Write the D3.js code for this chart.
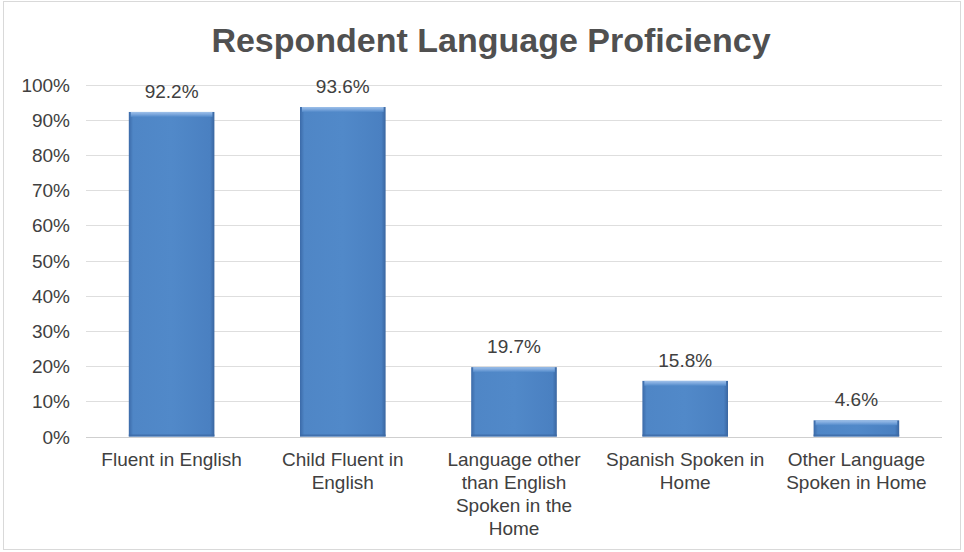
<!DOCTYPE html>
<html><head><meta charset="utf-8">
<script src="https://cdn.jsdelivr.net/npm/d3@7"></script>
<style>
html,body{margin:0;padding:0;background:#fff;}
svg{display:block;font-family:"Liberation Sans",Arial,sans-serif;}
</style></head>
<body>
<svg id="chart" width="964" height="552"></svg>
<script>
const title = "Respondent Language Proficiency";
const categories = [
  "Fluent in English",
  "Child Fluent in\nEnglish",
  "Language other\nthan English\nSpoken in the\nHome",
  "Spanish Spoken in\nHome",
  "Other Language\nSpoken in Home"
];
const values = [0.922, 0.936, 0.197, 0.158, 0.046];
const valueLabels = ["92.2%", "93.6%", "19.7%", "15.8%", "4.6%"];
const yTicks = [0, 0.1, 0.2, 0.3, 0.4, 0.5, 0.6, 0.7, 0.8, 0.9, 1.0];

const svg = d3.select("#chart");
const W = 964, H = 552;
const m = {left: 86, right: 22, top: 84.5, bottom: 115.5};

svg.append("rect").attr("x", 3.5).attr("y", 1.5).attr("width", 957).attr("height", 548)
  .attr("fill", "#fff").attr("stroke", "#d9d9d9").attr("stroke-width", 1);

const defs = svg.append("defs");
const g1 = defs.append("linearGradient").attr("id", "barH").attr("x1", 0).attr("x2", 1).attr("y1", 0).attr("y2", 0);
[[0, "#3b6aa8"], [0.05, "#4f86c6"], [0.5, "#5189c9"], [0.95, "#4a80c1"], [1, "#3a66a0"]]
  .forEach(([o, c]) => g1.append("stop").attr("offset", o).attr("stop-color", c));
const g2 = defs.append("linearGradient").attr("id", "barTop").attr("x1", 0).attr("x2", 0).attr("y1", 0).attr("y2", 1);
[[0, "#9fc1ea"], [0.5, "#7aa6dc"], [1, "#5189c9"]]
  .forEach(([o, c]) => g2.append("stop").attr("offset", o).attr("stop-color", c));

const x = d3.scaleBand().domain(categories).range([m.left, W - m.right]).paddingInner(0.5).paddingOuter(0.25);
const y = d3.scaleLinear().domain([0, 1]).range([H - m.bottom, m.top]);

// gridlines
svg.append("g").selectAll("line").data(yTicks).join("line")
  .attr("x1", m.left).attr("x2", W - m.right)
  .attr("y1", d => Math.round(y(d)) + 0.5).attr("y2", d => Math.round(y(d)) + 0.5)
  .attr("stroke", d => d === 0 ? "#cfcfcf" : "#dedede").attr("stroke-width", 1);

// y axis labels
const yAxis = d3.axisLeft(y).tickValues(yTicks).tickFormat(d3.format(".0%")).tickSize(0).tickPadding(0);
const ya = svg.append("g").attr("transform", `translate(70,0)`).call(yAxis);
ya.select(".domain").remove();
ya.selectAll("text").attr("font-size", 19).attr("fill", "#404040")
  .attr("font-family", "Liberation Sans, Arial, sans-serif").attr("dy", "0.35em");

// bars
const bars = svg.append("g").selectAll("g").data(categories).join("g");
bars.append("rect")
  .attr("x", d => x(d)).attr("width", x.bandwidth())
  .attr("y", (d, i) => y(values[i])).attr("height", (d, i) => y(0) - y(values[i]))
  .attr("fill", "url(#barH)");
bars.append("rect")
  .attr("x", d => x(d) + 2).attr("width", x.bandwidth() - 4)
  .attr("y", (d, i) => y(values[i])).attr("height", 5)
  .attr("fill", "url(#barTop)");
bars.append("rect")
  .attr("x", d => x(d)).attr("width", x.bandwidth())
  .attr("y", (d, i) => y(0) - 2).attr("height", 2)
  .attr("fill", "#3d6aa5").attr("opacity", 0.8);

// value labels
svg.append("g").selectAll("text").data(categories).join("text")
  .attr("x", d => x(d) + x.bandwidth() / 2)
  .attr("y", (d, i) => y(values[i]) - 14)
  .attr("text-anchor", "middle").attr("font-size", 19).attr("fill", "#404040")
  .text((d, i) => valueLabels[i]);

// category labels
const cl = svg.append("g").selectAll("text").data(categories).join("text")
  .attr("x", d => x(d) + x.bandwidth() / 2)
  .attr("y", 466)
  .attr("text-anchor", "middle").attr("font-size", 19).attr("fill", "#404040");
cl.each(function(d) {
  const t = d3.select(this);
  d.split("\n").forEach((line, k) => {
    t.append("tspan").attr("x", x(d) + x.bandwidth() / 2).attr("dy", k === 0 ? 0 : 23).text(line);
  });
});

// title
svg.append("text").attr("x", 491).attr("y", 52).attr("text-anchor", "middle")
  .attr("font-size", 34).attr("font-weight", "bold").attr("fill", "#505050").text(title);
</script>
</body></html>
